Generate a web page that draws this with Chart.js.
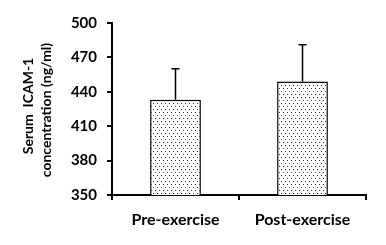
<!DOCTYPE html>
<html>
<head>
<meta charset="utf-8">
<script src="https://cdn.jsdelivr.net/npm/chart.js@4.4.0/dist/chart.umd.min.js"></script>
<style>
  body { margin: 0; background: #fff; }
  #wrap { width: 386px; height: 245px; }
</style>
</head>
<body>
<div id="wrap"><canvas id="mycanvas" width="386" height="245"></canvas></div>
<script>
// data
var groups = ["Pre-exercise", "Post-exercise"];
var icamMean = [433, 449];
var icamErr = [27, 32];
var yTicks = [350, 380, 410, 440, 470, 500];
var titleLines = ["Serum  ICAM-1", "concentration (ng/ml)"];

var fontFam = "Lato, 'Liberation Sans', sans-serif";

// dotted fill like the original
function dotPattern() {
	var c = document.createElement("canvas");
	c.width = 4;
	c.height = 6;
	var g = c.getContext("2d");
	g.fillStyle = "#ffffff";
	g.fillRect(0, 0, 4, 6);
	g.fillStyle = "#333333";
	g.fillRect(1, 1, 1, 1);
	g.fillRect(3, 4, 1, 1);
	return g.createPattern(c, "repeat");
}

var errorBars = {
	id: "errorBars",
	afterDatasetsDraw: function(chart) {
		var ctx = chart.ctx;
		var yScale = chart.scales.y;
		var meta = chart.getDatasetMeta(0);
		ctx.save();
		ctx.strokeStyle = "#000";
		ctx.lineWidth = 1.5;
		meta.data.forEach(function(bar, i) {
			var top = yScale.getPixelForValue(icamMean[i] + icamErr[i]);
			ctx.beginPath();
			ctx.moveTo(bar.x, bar.y);
			ctx.lineTo(bar.x, top);
			ctx.moveTo(bar.x - 4, top);
			ctx.lineTo(bar.x + 4, top);
			ctx.stroke();
		});
		ctx.restore();
	}
};

var yTitle = {
	id: "yTitle",
	afterDraw: function(chart) {
		var ctx = chart.ctx;
		ctx.save();
		ctx.fillStyle = "#000";
		ctx.font = "bold 14px " + fontFam;
		ctx.textAlign = "center";
		ctx.textBaseline = "middle";
		var spots = [[28, 106], [46, 110]];
		for (var i = 0; i < titleLines.length; i++) {
			ctx.save();
			ctx.translate(spots[i][0], spots[i][1]);
			ctx.rotate(-Math.PI / 2);
			ctx.fillText(titleLines[i], 0, 0);
			ctx.restore();
		}
		ctx.restore();
	}
};

var chartdata = {
	labels: groups,
	datasets: [
		{
			label: "Serum ICAM-1",
			data: icamMean,
			backgroundColor: dotPattern(),
			borderColor: "#000",
			borderWidth: 1.5,
			borderSkipped: "bottom",
			categoryPercentage: 1,
			barPercentage: 0.4
		}
	]
};

var ctx = document.getElementById("mycanvas");

var barGraph = new Chart(ctx, {
	type: "bar",
	data: chartdata,
	options: {
		responsive: false,
		animation: false,
		layout: { padding: { top: 23, right: 20, left: 0, bottom: 0 } },
		plugins: {
			legend: { display: false },
			tooltip: { enabled: false }
		},
		scales: {
			x: {
				afterFit: function(s) { s.height = 50; },
				grid: {
					drawOnChartArea: false,
					drawTicks: true,
					tickLength: 5,
					color: "#000",
					lineWidth: 2
				},
				border: { color: "#000", width: 2 },
				ticks: {
					color: "#000",
					padding: 10,
					font: { family: fontFam, size: 16, weight: "bold" }
				}
			},
			y: {
				min: 350,
				max: 500,
				afterFit: function(s) { s.width = 112; },
				afterBuildTicks: function(s) {
					s.ticks = yTicks.map(function(v) { return { value: v }; });
				},
				grid: {
					drawOnChartArea: false,
					drawTicks: true,
					tickLength: 5,
					color: "#000",
					lineWidth: 2
				},
				border: { color: "#000", width: 2 },
				ticks: {
					color: "#000",
					padding: 10,
					font: { family: fontFam, size: 15, weight: "bold" }
				}
			}
		}
	},
	plugins: [errorBars, yTitle]
});
</script>
</body>
</html>
